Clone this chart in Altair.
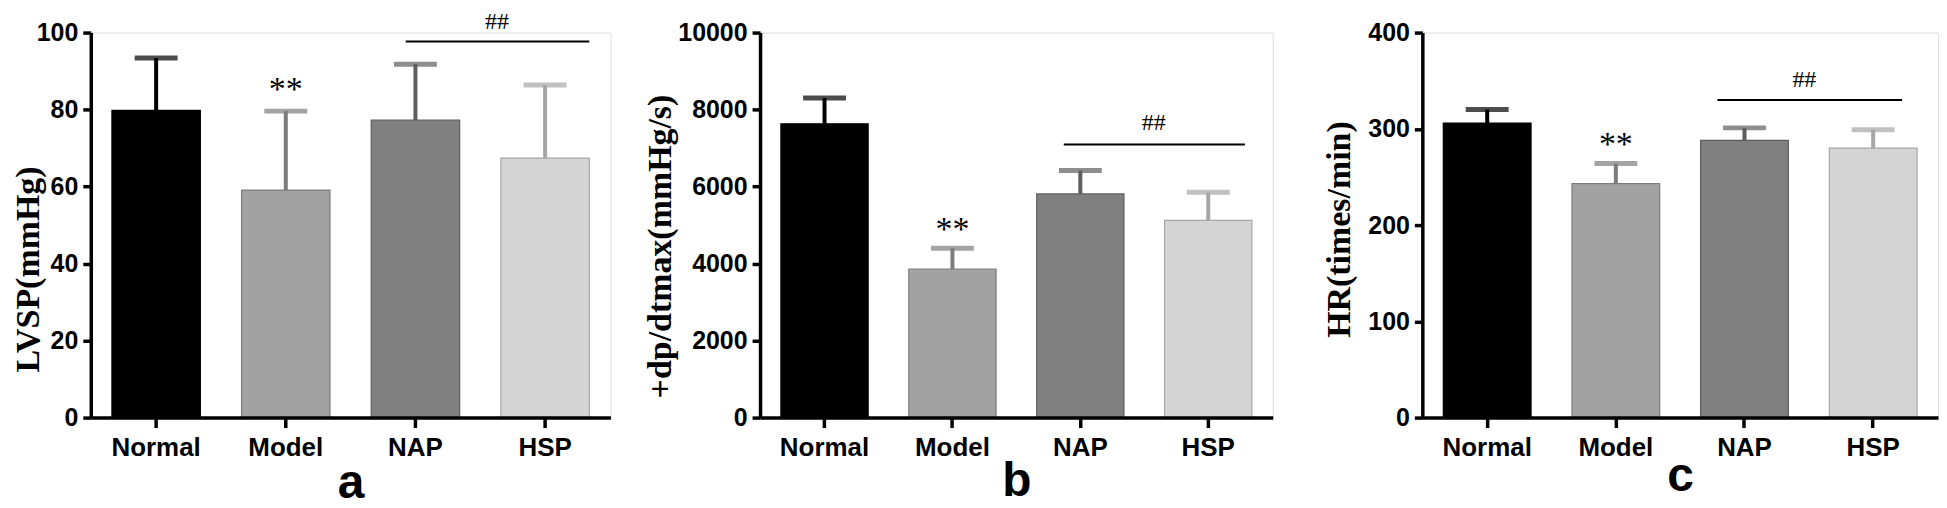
import altair as alt
import pandas as pd

# ---------------- data ----------------
groups = ["Normal", "Model", "NAP", "HSP"]

lvsp_mean = [79.8, 59.1, 77.3, 67.4]
lvsp_sd = [13.6, 20.5, 14.5, 19.0]

dpdt_mean = [7630, 3860, 5810, 5120]
dpdt_sd = [670, 540, 610, 730]

hr_mean = [306, 243, 288, 280]
hr_sd = [14, 21, 13, 19]

y_titles = ["LVSP(mmHg)", "+dp/dtmax(mmHg/s)", "HR(times/min)"]
y_max = [100, 10000, 400]
y_step = [20, 2000, 100]
panel_letters = ["a", "b", "c"]

star_group = "Model"
star_label = "**"
star_y = [85, 4880, 283]

sig_from = "NAP"
sig_to = "HSP"
sig_label = "##"
sig_line_y = [97.7, 7095, 330]
sig_text_y = [102.8, 7660, 351]

# ---------------- styles ----------------
bar_colors = ["#000000", "#a2a2a2", "#808080", "#d4d4d4"]
err_colors = ["#000000", "#7c7c7c", "#5e5e5e", "#a6a6a6"]

SANS = "Liberation Sans"
SERIF = "Liberation Serif"

panel_style = [
    dict(width=521, title_x=-62, title_y=237, xtitle_y=80, bp0=0.39, bp1=1.0, hdx=-4),
    dict(width=514, title_x=-100, title_y=214, xtitle_y=78, bp0=0.31, bp1=0.92, hdx=-11),
    dict(width=517, title_x=-83, title_y=197, xtitle_y=73, bp0=0.19, bp1=0.83, hdx=-25),
]
HEIGHT = 386
SPACING = 150


def panel(i, means, sds):
    st = panel_style[i]
    df = pd.DataFrame({
        "group": groups,
        "mean": means,
        "top": [m + s for m, s in zip(means, sds)],
        "fill": bar_colors,
        "ecol": err_colors,
    })
    xs = alt.Scale(domain=groups, paddingInner=0.318, paddingOuter=0.163)
    ys = alt.Scale(domain=[0, y_max[i]], nice=False)

    y_axis = alt.Axis(
        values=list(range(0, y_max[i] + 1, y_step[i])), format="d", grid=False,
        domainColor="black", domainWidth=3.5, tickColor="black", tickWidth=3.5, tickSize=8,
        labelFont=SANS, labelFontWeight="bold", labelFontSize=25, labelColor="black", labelPadding=5,
        title=y_titles[i], titleFont=SERIF, titleFontSize=34, titleFontWeight="bold", titleColor="black",
        titleX=st["title_x"], titleY=st["title_y"], titleAngle=270, titleAlign="center",
        titleBaseline="middle", zindex=1,
    )
    x_axis = alt.Axis(
        labelAngle=0, grid=False,
        domainColor="black", domainWidth=3.5, tickColor="black", tickWidth=3.5, tickSize=10,
        labelFont=SANS, labelFontWeight="bold", labelFontSize=26, labelColor="black", labelPadding=7,
        title=panel_letters[i], titleFont=SANS, titleFontSize=48, titleFontWeight="bold", titleColor="black",
        titleY=st["xtitle_y"], titleBaseline="alphabetic", zindex=1,
    )

    def X(field, **kw):
        return alt.X(field, scale=xs, sort=groups, axis=x_axis, **kw)

    def Y(field):
        return alt.Y(field, scale=ys, axis=y_axis)

    base = alt.Chart(df)
    bars = base.mark_bar(strokeWidth=1.2).encode(
        x=X("group:N"),
        y=Y("mean:Q"),
        fill=alt.Fill("fill:N", scale=None),
        stroke=alt.Stroke("ecol:N", scale=None),
    )
    stems = base.mark_rule(strokeWidth=4).encode(
        x=X("group:N"),
        y=Y("mean:Q"),
        y2="top:Q",
        color=alt.Color("ecol:N", scale=None),
    )
    caps = base.mark_tick(thickness=5, size=43).encode(
        x=X("group:N"),
        y=Y("top:Q"),
        color=alt.Color("ecol:N", scale=None),
    )

    star_df = pd.DataFrame({"group": [star_group], "y": [star_y[i]], "label": [star_label]})
    stars = alt.Chart(star_df).mark_text(font=SERIF, fontSize=34, color="black", baseline="middle").encode(
        x=X("group:N"),
        y=Y("y:Q"),
        text="label:N",
    )

    sig_df = pd.DataFrame({"group": [sig_from], "b": [sig_to], "y": [sig_line_y[i]],
                           "ty": [sig_text_y[i]], "label": [sig_label]})
    sig_line = alt.Chart(sig_df).mark_rule(strokeWidth=2, color="black").encode(
        x=X("group:N", bandPosition=st["bp0"]),
        x2=alt.X2("b:N", bandPosition=st["bp1"]),
        y=Y("y:Q"),
    )
    sig_text = alt.Chart(sig_df).mark_text(font=SERIF, fontSize=24, color="black",
                                           baseline="middle", dx=st["hdx"]).encode(
        x=X("b:N", bandPosition=0),
        y=Y("ty:Q"),
        text="label:N",
    )

    return alt.layer(bars, stems, caps, stars, sig_line, sig_text).properties(
        width=st["width"], height=HEIGHT
    )


pa = panel(0, lvsp_mean, lvsp_sd)
pb = panel(1, dpdt_mean, dpdt_sd)
pc = panel(2, hr_mean, hr_sd)

chart = alt.hconcat(
    pa, pb, pc,
    spacing=SPACING,
    bounds="flush",
).properties(
    padding={"left": 3, "top": 0, "right": 0, "bottom": 0}
).configure_view(strokeWidth=0).configure(background="white")

chart.save("out.html", embed_options={"renderer": "svg", "actions": False})
